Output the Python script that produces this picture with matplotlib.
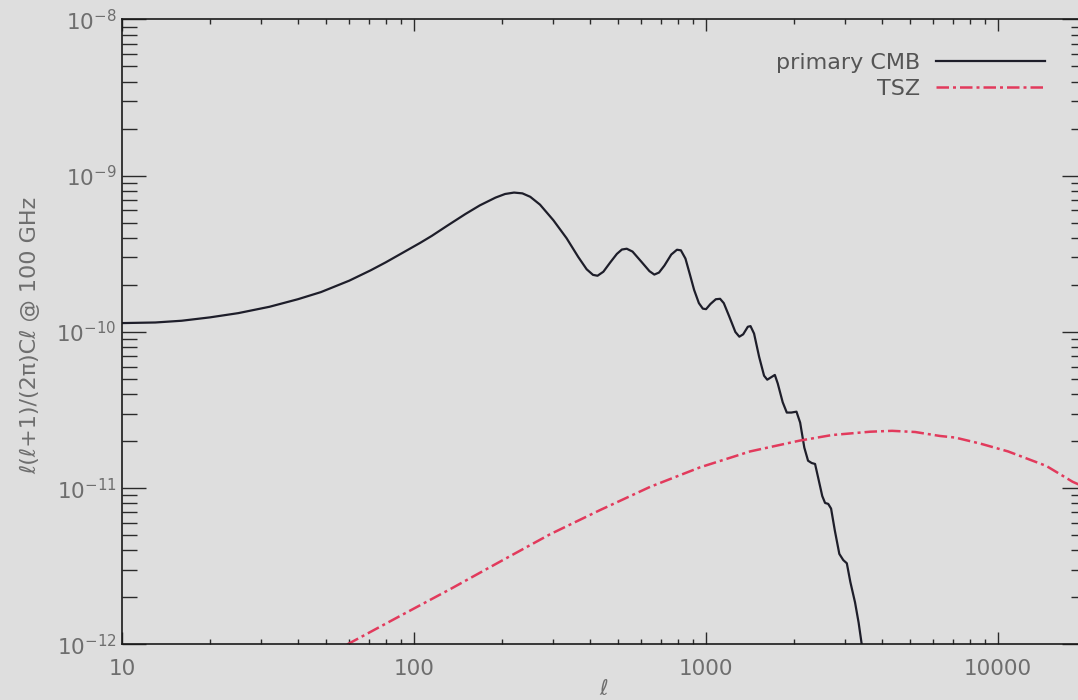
import matplotlib
matplotlib.use("Agg")
import matplotlib.pyplot as plt
from matplotlib.ticker import LogLocator, NullFormatter, FixedLocator, FixedFormatter

# ---------------- data ----------------
cmb_ell = [10, 13, 16, 20, 25, 32, 40, 48, 60, 71, 80, 90, 105, 115, 130, 150, 168,
           190, 205, 220, 235, 250, 270, 300, 333, 365, 390, 410, 425, 445, 470, 495,
           515, 535, 560, 600, 640, 665, 690, 720, 760, 795, 820, 850, 880, 910, 945,
           975, 1000, 1035, 1080, 1117, 1150, 1200, 1260, 1300, 1340, 1390, 1420, 1460,
           1520, 1580, 1620, 1670, 1720, 1760, 1830, 1890, 1960, 2040, 2100, 2170, 2235,
           2300, 2362, 2420, 2500, 2556, 2620, 2680, 2760, 2860, 2950, 3034, 3120, 3237,
           3330, 3413, 3500]
cmb_val = [1.14e-10, 1.15e-10, 1.18e-10, 1.24e-10, 1.32e-10, 1.45e-10, 1.62e-10, 1.80e-10,
           2.13e-10, 2.48e-10, 2.79e-10, 3.16e-10, 3.72e-10, 4.12e-10, 4.79e-10, 5.69e-10,
           6.46e-10, 7.24e-10, 7.64e-10, 7.80e-10, 7.71e-10, 7.33e-10, 6.53e-10, 5.19e-10,
           3.98e-10, 3.02e-10, 2.52e-10, 2.32e-10, 2.29e-10, 2.43e-10, 2.79e-10, 3.16e-10,
           3.37e-10, 3.41e-10, 3.27e-10, 2.82e-10, 2.45e-10, 2.33e-10, 2.40e-10, 2.66e-10,
           3.13e-10, 3.36e-10, 3.33e-10, 2.95e-10, 2.34e-10, 1.86e-10, 1.53e-10, 1.41e-10,
           1.40e-10, 1.51e-10, 1.62e-10, 1.63e-10, 1.53e-10, 1.26e-10, 1.00e-10, 9.33e-11,
           9.66e-11, 1.08e-10, 1.09e-10, 9.77e-11, 6.92e-11, 5.25e-11, 4.95e-11, 5.13e-11,
           5.31e-11, 4.68e-11, 3.55e-11, 3.05e-11, 3.05e-11, 3.09e-11, 2.63e-11, 1.82e-11,
           1.50e-11, 1.45e-11, 1.43e-11, 1.17e-11, 8.91e-12, 8.05e-12, 7.94e-12, 7.41e-12,
           5.37e-12, 3.80e-12, 3.47e-12, 3.31e-12, 2.51e-12, 1.86e-12, 1.38e-12, 1.00e-12,
           7.08e-13]

tsz_ell = [59, 90, 133, 197, 292, 433, 643, 953, 1415, 2100, 2700, 3650, 4335, 5200,
           6324, 7130, 8700, 10820, 14620, 18000, 20650]
tsz_val = [1.00e-12, 1.53e-12, 2.26e-12, 3.39e-12, 5.07e-12, 7.24e-12, 1.02e-11, 1.36e-11,
           1.72e-11, 2.02e-11, 2.19e-11, 2.30e-11, 2.33e-11, 2.29e-11, 2.16e-11, 2.11e-11,
           1.93e-11, 1.72e-11, 1.39e-11, 1.10e-11, 9.82e-12]

series_labels = ["primary CMB", "TSZ"]
xtick_vals = [10, 100, 1000, 10000]
xtick_labels = ["10", "100", "1000", "10000"]
ytick_vals = [1e-12, 1e-11, 1e-10, 1e-9, 1e-8]
ytick_labels = [r"$10^{-12}$", r"$10^{-11}$", r"$10^{-10}$", r"$10^{-9}$", r"$10^{-8}$"]
x_label = "ℓ"
y_label = "ℓ(ℓ+1)/(2π)Cℓ @ 100 GHz"

# ---------------- figure ----------------
BG = "#dedede"
TXT = "#6e6e6e"
fig = plt.figure(figsize=(10.78, 7.0), dpi=100, facecolor=BG)
ax = fig.add_axes([0.1132, 0.0793, 0.8942, 0.8929], facecolor=BG)

ax.plot(cmb_ell, cmb_val, color="#1e1e2a", lw=1.6, label=series_labels[0],
        solid_joinstyle="round")
ax.plot(tsz_ell, tsz_val, color="#e23a5c", lw=1.8, dashes=(5, 1.6, 1.2, 1.6),
        label=series_labels[1])

ax.set_xscale("log")
ax.set_yscale("log")
ax.set_xlim(10, 20000)
ax.set_ylim(1e-12, 1e-8)

ax.xaxis.set_major_locator(FixedLocator(xtick_vals))
ax.xaxis.set_major_formatter(FixedFormatter(xtick_labels))
ax.xaxis.set_minor_locator(LogLocator(base=10, subs=range(2, 10), numticks=20))
ax.xaxis.set_minor_formatter(NullFormatter())
ax.yaxis.set_major_locator(FixedLocator(ytick_vals))
ax.yaxis.set_major_formatter(FixedFormatter(ytick_labels))
ax.yaxis.set_minor_locator(LogLocator(base=10, subs=range(2, 10), numticks=20))
ax.yaxis.set_minor_formatter(NullFormatter())

ax.tick_params(axis="both", which="both", direction="in", top=True, right=True,
               color="#2a2a2a", width=1.0, labelcolor=TXT, labelsize=15.5)
ax.tick_params(axis="x", which="major", length=8.5, pad=10.5)
ax.tick_params(axis="x", which="minor", length=3.5)
ax.tick_params(axis="y", which="major", length=17, pad=4)
ax.tick_params(axis="y", which="minor", length=10.5)

for s in ax.spines.values():
    s.set_color("#1a1a1a")
    s.set_linewidth(1.2)

ax.set_xlabel(x_label, fontsize=15, color=TXT)
ax.xaxis.set_label_coords(0.5, -0.0872)
ax.xaxis.label.set_va("bottom")
ax.set_ylabel(y_label, fontsize=16, color=TXT)
ax.yaxis.set_label_coords(-0.085, 0.494)

leg = ax.legend(loc="upper right", bbox_to_anchor=((1045 - 122) / 964, 1 - (53 - 19.5) / 625),
                frameon=False, markerfirst=False, fontsize=16, handlelength=4.9,
                handletextpad=0.7, labelspacing=0.25, borderpad=0, borderaxespad=0)
for t in leg.get_texts():
    t.set_color("#555555")

fig.savefig("out.png", dpi=100, facecolor=BG)
